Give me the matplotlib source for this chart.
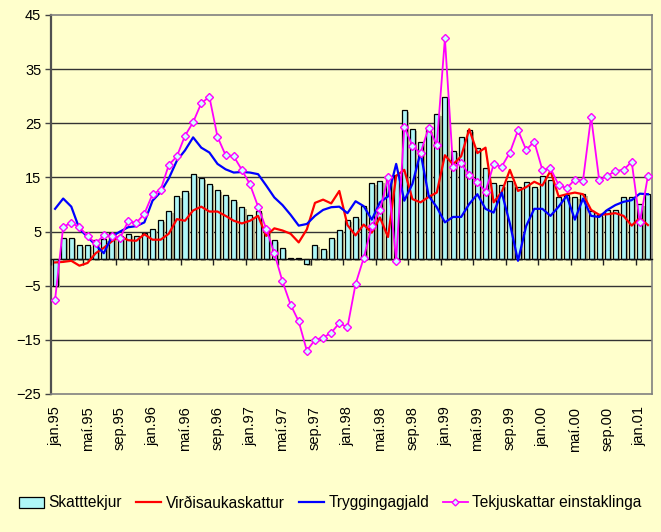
import numpy as np
import matplotlib
matplotlib.use('Agg')
import matplotlib.pyplot as plt
import matplotlib.patheffects as pe
from matplotlib.patches import Patch
from matplotlib.lines import Line2D

plt.rcParams['font.family'] = ['Liberation Sans', 'DejaVu Sans']

#month labels jan.95 .. feb.01
months = ['jan', 'feb', 'mar', 'apr', 'maí', 'jún', 'júl', 'ágú', 'sep', 'okt', 'nóv', 'des']
years = ['95', '96', '97', '98', '99', '00', '01']
n_months = 74

#series values (% change)
skatttekjur = [-5.0, 3.9, 3.9, 2.6, 2.6, 3.4, 3.6, 4.7, 4.2, 4.6, 4.1, 4.7,
               5.5, 7.1, 8.8, 11.6, 12.5, 15.6, 14.9, 13.8, 12.7, 11.7, 10.9, 9.6,
               8.1, 8.8, 5.7, 3.4, 1.9, 0.2, 0.2, -1.0, 2.5, 1.8, 3.8, 5.2,
               7.2, 7.7, 9.8, 14.0, 14.3, 15.3, 15.5, 27.4, 24.0, 21.5, 23.7, 26.7,
               29.8, 19.9, 22.5, 23.7, 20.4, 16.8, 14.0, 13.6, 14.4, 13.2, 14.2, 13.2,
               15.3, 14.6, 11.4, 11.8, 11.4, 11.9, 8.8, 8.0, 8.9, 8.9, 11.3, 11.4,
               10.1, 11.9]
vsk = [-0.7, -0.6, -0.4, -1.3, -0.8, 1.0, 2.0, 3.2, 4.2, 3.4, 3.3, 4.5,
       3.5, 3.5, 4.6, 7.3, 7.0, 8.9, 9.6, 8.7, 8.7, 7.9, 7.0, 6.5,
       7.0, 7.9, 4.2, 5.6, 5.2, 4.6, 3.0, 5.4, 10.3, 10.9, 10.2, 12.5,
       6.2, 4.3, 6.3, 4.8, 7.6, 4.0, 15.3, 16.4, 11.0, 10.4, 11.4, 12.2,
       19.1, 17.4, 18.9, 23.9, 19.5, 20.5, 10.4, 12.3, 16.4, 12.5, 13.2, 14.2,
       13.5, 16.2, 11.5, 11.9, 12.2, 11.9, 9.0, 8.1, 8.2, 8.4, 7.9, 6.1,
       7.5, 6.2]
tryggingagjald = [9.2, 11.1, 9.6, 5.5, 4.0, 2.5, 1.0, 4.1, 5.0, 5.8, 6.0, 6.7,
                  10.7, 12.3, 14.8, 18.1, 20.0, 22.4, 20.5, 19.6, 17.5, 16.5, 15.9, 16.0,
                  15.9, 15.6, 13.5, 11.3, 9.9, 8.1, 6.1, 6.4, 7.9, 9.0, 9.5, 9.6,
                  8.4, 10.6, 9.7, 7.2, 10.4, 11.5, 17.5, 10.7, 13.8, 19.6, 11.6, 9.5,
                  6.7, 7.7, 7.7, 10.1, 11.9, 9.2, 8.5, 12.2, 6.5, -0.4, 6.0, 9.2,
                  9.2, 7.9, 9.6, 11.6, 7.2, 11.1, 7.9, 7.7, 9.0, 9.9, 10.5, 10.8,
                  12.0, 11.9]
tekjuskattar = [-7.6, 5.9, 6.6, 5.8, 4.2, 2.8, 4.3, 4.2, 3.8, 6.9, 6.6, 8.3,
                11.9, 12.7, 17.3, 18.9, 22.7, 25.2, 28.7, 29.9, 22.5, 19.1, 18.9, 16.4,
                13.7, 9.6, 5.5, 1.0, -4.2, -8.5, -11.6, -17.0, -15.0, -14.6, -13.7, -11.9,
                -12.7, -4.7, 0.1, 6.0, 8.9, 15.0, -0.4, 24.4, 20.8, 19.5, 24.2, 21.0,
                40.7, 17.0, 17.7, 15.4, 14.2, 12.4, 17.4, 17.0, 19.6, 23.7, 20.1, 21.6,
                16.4, 16.7, 13.6, 13.0, 14.6, 14.4, 26.2, 14.5, 15.3, 16.2, 16.4, 17.9,
                6.7, 15.3]

labels = [m + '.' + y for y in years for m in months][:n_months]
x = np.arange(n_months)

bg = '#FFFFCC'
fig = plt.figure(figsize=(6.61, 5.32), dpi=100, facecolor=bg)
ax = fig.add_axes([51/661, 1-394/532, 601/661, 379/532], facecolor=bg)

ymin, ymax = -25, 45
ax.set_ylim(ymin, ymax)
ax.set_xlim(-0.5, n_months-0.5)

#gridlines
for g in range(-15, 45, 10):
    ax.axhline(g, color='#333333', lw=1.0, zorder=1)

#bars with excel style shadow
bar_fx = [pe.SimplePatchShadow(offset=(1.6, -1.4), shadow_rgbFace='#B9B58E', alpha=1), pe.Normal()]
ax.bar(x, skatttekjur, width=0.62, color='#AFF7F7', edgecolor='black', linewidth=0.9,
       zorder=2, path_effects=bar_fx)

ax.plot(x, vsk, color='#FF0000', lw=1.6, zorder=4)
ax.plot(x, tryggingagjald, color='#0000FF', lw=1.6, zorder=4)
ax.plot(x, tekjuskattar, color='#FF00FF', lw=1.3, marker='D', ms=3.6,
        mfc='#CCFFFF', mec='#FF00FF', mew=1.0, zorder=5)

#y axis
ax.set_yticks(np.arange(ymin, ymax+1, 10))
ax.tick_params(axis='y', direction='out', length=4, width=1, color='#444444',
               labelsize=10.5, pad=3)
for s in ['top', 'right', 'bottom']:
    ax.spines[s].set_color('#808080')
    ax.spines[s].set_linewidth(1.2)
ax.spines['left'].set_color('#505050')
ax.spines['left'].set_linewidth(1.6)

#category labels at the bottom, every 4th month
ax.set_xticks(x[::4])
ax.set_xticklabels(labels[::4], rotation=90, fontsize=10.5)
ax.tick_params(axis='x', length=0, pad=9)

#category axis line at zero with tick marks between months
zero_pos = (0 - ymin) / (ymax - ymin)
sec = ax.secondary_xaxis(zero_pos)
sec.set_xticks(np.arange(-0.5, n_months, 4))
sec.set_xticklabels([])
sec.tick_params(axis='x', direction='out', length=4.5, width=1, color='#222222')
sec.spines['bottom'].set_color('#111111')
sec.spines['bottom'].set_linewidth(1.0)
sec.set_zorder(3)

handles = [Patch(facecolor='#AFF7F7', edgecolor='black', linewidth=0.9),
           Line2D([], [], color='#FF0000', lw=1.6),
           Line2D([], [], color='#0000FF', lw=1.6),
           Line2D([], [], color='#FF00FF', lw=1.3, marker='D', ms=3.5, mfc='#CCFFFF', mec='#FF00FF')]
names = ['Skatttekjur', 'Virðisaukaskattur', 'Tryggingagjald', 'Tekjuskattar einstaklinga']
fig.legend(handles, names, loc='center', bbox_to_anchor=(0.5, 1-503/532), ncol=4,
           frameon=False, fontsize=11.2, handlelength=1.6, handletextpad=0.3,
           columnspacing=0.9, borderpad=0)

plt.savefig('out.png', dpi=100, facecolor=bg)
